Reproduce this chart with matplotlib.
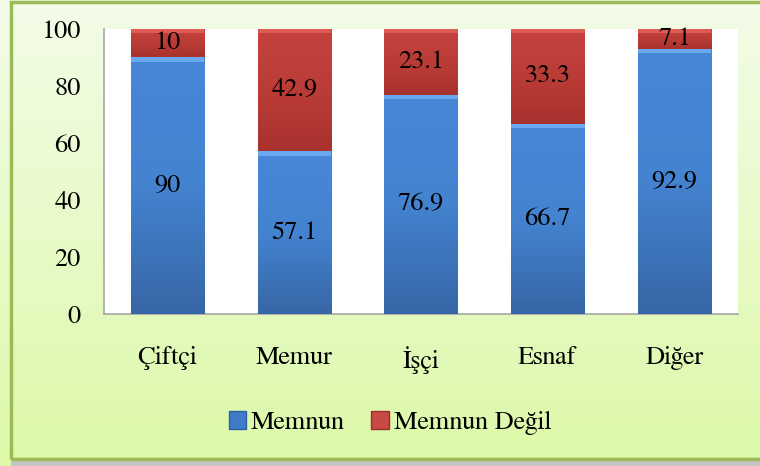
import numpy as np
import matplotlib.pyplot as plt
from matplotlib.patches import Patch, Rectangle
from matplotlib.colors import LinearSegmentedColormap

categories = ['Çiftçi', 'Memur', 'İşçi', 'Esnaf', 'Diğer']
memnun = [90, 57.1, 76.9, 66.7, 92.9]
memnun_degil = [10, 42.9, 23.1, 33.3, 7.1]
value_labels_1 = ['90', '57.1', '76.9', '66.7', '92.9']
value_labels_2 = ['10', '42.9', '23.1', '33.3', '7.1']
yticks = [0, 20, 40, 60, 80, 100]

SERIF = 'FreeSerif'
plt.rcParams['font.family'] = SERIF
FS = 19

fig = plt.figure(figsize=(7.6, 4.66), dpi=100)

# background panel with soft green gradient
bg = fig.add_axes([0, 0, 1, 1], zorder=-5)
bg_cmap = LinearSegmentedColormap.from_list('bg', ['#f3fce8', '#dcf9a8'])
bg.imshow(np.linspace(0, 1, 256).reshape(-1, 1), cmap=bg_cmap, aspect='auto',
          extent=[0, 1, 0, 1])
bg.set_xlim(0, 1)
bg.set_ylim(0, 1)
bg.axis('off')
bg.add_patch(Rectangle((0.014, 0.0), 0.986, 0.014, color='#c4c4c4', lw=0))
bg.add_patch(Rectangle((0.015, 0.014), 1.0, 0.982, fill=False,
                       edgecolor='#9bbb59', lw=2.5))

ax = fig.add_axes([0.137, 0.326, 0.834, 0.612])
ax.set_facecolor('white')
x = np.arange(len(categories))
w = 0.58

b1 = ax.bar(x, memnun, w, color='#3f7bc9', label='Memnun', zorder=2)
b2 = ax.bar(x, memnun_degil, w, bottom=memnun, color='#be3c37',
            label='Memnun Değil', zorder=2)

blue_cmap = LinearSegmentedColormap.from_list('b', ['#3766a6', '#4483d0', '#4787d6'])
red_cmap = LinearSegmentedColormap.from_list('r', ['#a8322e', '#bb3c37', '#c4433e'])
grad = np.linspace(0, 1, 128).reshape(-1, 1)
bevel = {id(b1): '#6aa8f0', id(b2): '#de5a55'}
for bars, cm in ((b1, blue_cmap), (b2, red_cmap)):
    for p in bars:
        x0, y0 = p.get_x(), p.get_y()
        pw, ph = p.get_width(), p.get_height()
        im = ax.imshow(grad, cmap=cm, aspect='auto', origin='lower',
                       extent=[x0, x0 + pw, y0, y0 + ph], zorder=3)
        im.set_clip_path(p)
        # lighter bevel at the top of each segment
        ax.add_patch(Rectangle((x0, y0 + ph - 1.5), pw, 1.5,
                               color=bevel[id(bars)], lw=0, zorder=4))

for i in range(len(categories)):
    ax.text(x[i], memnun[i] / 2, value_labels_1[i], ha='center', va='center',
            fontsize=FS, family=SERIF, zorder=5)
    ax.text(x[i], memnun[i] + memnun_degil[i] / 2, value_labels_2[i],
            ha='center', va='center', fontsize=FS, family=SERIF, zorder=5)

ax.set_xlim(-0.5, len(categories) - 0.5)
ax.set_ylim(0, 100)
ax.set_yticks(yticks)
ax.set_yticklabels([str(t) for t in yticks], fontsize=FS, family=SERIF)
ax.set_xticks(x)
ax.set_xticklabels(categories, fontsize=FS, family=SERIF)
ax.tick_params(axis='y', length=0, pad=17)
ax.tick_params(axis='x', length=0, pad=23)
for s in ['top', 'right']:
    ax.spines[s].set_visible(False)
for s in ['left', 'bottom']:
    ax.spines[s].set_color('#a6a6a6')
    ax.spines[s].set_linewidth(1.2)

handles = [Patch(facecolor='#3f7bc9', edgecolor='#2f5f9e', label='Memnun'),
           Patch(facecolor='#c94a45', edgecolor='#9a2e2a', label='Memnun Değil')]
fig.legend(handles=handles, loc='center', bbox_to_anchor=(0.513, 0.092),
           ncol=2, frameon=False, prop={'family': SERIF, 'size': FS},
           handlelength=0.65, handleheight=0.65, handletextpad=0.2,
           columnspacing=1.0)

fig.savefig('out.png', dpi=100)
